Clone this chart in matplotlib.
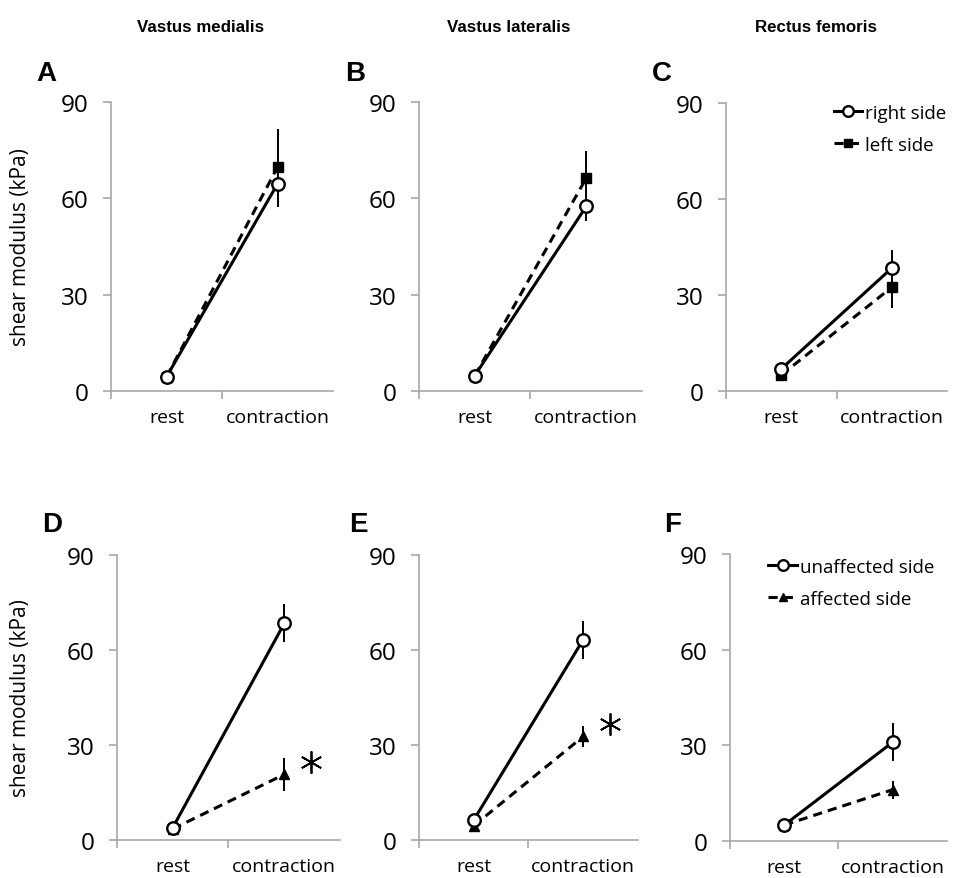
import matplotlib
matplotlib.use('Agg')
import matplotlib.pyplot as plt

plt.rcParams['font.family'] = ['Open Sans', 'DejaVu Sans']

# 데이터 (값은 그림에서 읽어 추정)
categories = ['rest', 'contraction']
muscles = ['Vastus medialis', 'Vastus lateralis', 'Rectus femoris']
letters_top = ['A', 'B', 'C']
letters_bottom = ['D', 'E', 'F']

# 위쪽: right side / left side
right_mean = [[4.4, 64.5], [4.8, 57.5], [6.9, 38.4]]
right_sd = [[0.8, 7.2], [0.8, 4.5], [0.8, 5.7]]
left_mean = [[4.4, 69.7], [4.8, 66.3], [5.0, 32.4]]
left_sd = [[0.8, 11.9], [0.8, 8.5], [0.8, 6.6]]

# 아래쪽: unaffected side / affected side
unaff_mean = [[3.9, 68.4], [6.3, 63.3], [5.0, 31.0]]
unaff_sd = [[0.8, 6.0], [0.8, 6.0], [0.8, 6.0]]
aff_mean = [[3.5, 20.7], [4.5, 32.7], [5.0, 16.1]]
aff_sd = [[0.8, 5.3], [0.8, 3.3], [0.8, 2.8]]
significant = [True, True, False]

yticks = [0, 30, 60, 90]

W, H = 954, 879
fig = plt.figure(figsize=(W / 100, H / 100), dpi=100)

# 축 위치 (픽셀: 왼쪽, 아래, 폭, 높이)
boxes_top = [(111, 392, 222, 289), (419, 392, 223, 289), (726, 392, 221, 288)]
boxes_bottom = [(117, 841, 223, 285), (419, 841, 219, 285), (730, 842, 217, 287)]
letter_x_top = [36, 345, 652]
letter_x_bottom = [42, 349, 664]

gray = '#a8a8a8'
xpos = [0.5, 1.5]


def make_ax(box):
    x, yb, w, h = box
    ax = fig.add_axes([x / W, 1 - yb / H, w / W, h / H])
    ax.set_xlim(0, 2)
    ax.set_ylim(0, 90)
    for s in ['top', 'right']:
        ax.spines[s].set_visible(False)
    for s in ['left', 'bottom']:
        ax.spines[s].set_color(gray)
        ax.spines[s].set_linewidth(1.2)
    ax.set_yticks(yticks)
    ax.tick_params(axis='y', colors=gray, labelcolor='black', labelsize=17.5,
                   length=6, width=1.2, pad=10)
    ax.set_xticks([0, 1])
    ax.set_xticklabels([])
    ax.tick_params(axis='x', which='major', colors=gray, length=6, width=1.2)
    ax.set_xticks(xpos, minor=True)
    ax.set_xticklabels(categories, minor=True)
    ax.tick_params(axis='x', which='minor', length=0, labelsize=14, pad=12)
    return ax


def add_legend(ax, x0, y0):
    h, l = ax.get_legend_handles_labels()
    ax.legend(h, l, loc='upper left', bbox_to_anchor=(x0, y0),
              frameon=False, fontsize=13.5, handlelength=1.5,
              handletextpad=0.2, markerscale=0.85, labelspacing=0.75,
              borderpad=0.2, borderaxespad=0)


for i in range(3):
    ax = make_ax(boxes_top[i])
    ax.errorbar(xpos, left_mean[i], yerr=left_sd[i], fmt='none', ecolor='black',
                elinewidth=1.4, capsize=0, zorder=2)
    ax.errorbar(xpos, right_mean[i], yerr=right_sd[i], fmt='none', ecolor='black',
                elinewidth=1.4, capsize=0, zorder=2)
    ax.plot(xpos, right_mean[i], '-', color='black', lw=2.2, marker='o',
            markersize=9, markerfacecolor='white', markeredgecolor='black',
            markeredgewidth=1.7, label='right side', zorder=4)
    ax.plot(xpos, left_mean[i], '--', color='black', lw=2.2, marker='s',
            markersize=7.5, markerfacecolor='black', markeredgecolor='black',
            dashes=(3, 2), label='left side', zorder=3)
    fig.text(letter_x_top[i] / W, 1 - 74 / H, letters_top[i],
             fontsize=20, fontweight='bold', family='Liberation Sans', va='center')
    fig.text((boxes_top[i][0] + 90) / W, 1 - 28 / H, muscles[i],
             fontsize=12.2, fontweight='bold', family='Liberation Sans',
             ha='center', va='center')
    if i == 0:
        ax.set_ylabel('shear modulus (kPa)', fontsize=15)
        ax.yaxis.set_label_coords(-0.36, 0.5)
    if i == 2:
        add_legend(ax, 0.47, 1.01)

for i in range(3):
    ax = make_ax(boxes_bottom[i])
    ax.errorbar(xpos, aff_mean[i], yerr=aff_sd[i], fmt='none', ecolor='black',
                elinewidth=1.4, capsize=0, zorder=2)
    ax.errorbar(xpos, unaff_mean[i], yerr=unaff_sd[i], fmt='none', ecolor='black',
                elinewidth=1.4, capsize=0, zorder=2)
    ax.plot(xpos, unaff_mean[i], '-', color='black', lw=2.2, marker='o',
            markersize=9, markerfacecolor='white', markeredgecolor='black',
            markeredgewidth=1.7, label='unaffected side', zorder=4)
    ax.plot(xpos, aff_mean[i], '--', color='black', lw=2.2, marker='^',
            markersize=7.5, markerfacecolor='black', markeredgecolor='black',
            dashes=(3, 2), label='affected side', zorder=3)
    fig.text(letter_x_bottom[i] / W, 1 - 525 / H, letters_bottom[i],
             fontsize=20, fontweight='bold', family='Liberation Sans', va='center')
    if significant[i]:
        # 유의차 표시 (*)
        ax.plot(xpos[1] + 0.24, aff_mean[i][1] + 3.8, marker=(6, 2, 0),
                markersize=16, color='black', markeredgewidth=1.3, zorder=5)
    if i == 0:
        ax.set_ylabel('shear modulus (kPa)', fontsize=15)
        ax.yaxis.set_label_coords(-0.385, 0.5)
    if i == 2:
        add_legend(ax, 0.16, 1.0)

plt.savefig('out.png', dpi=100)
